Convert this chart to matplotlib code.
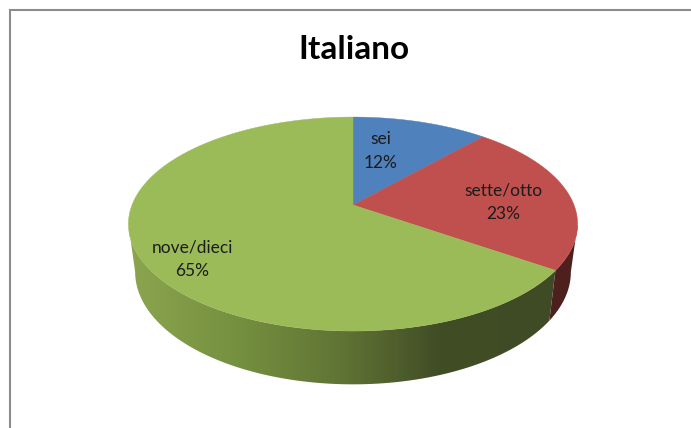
import numpy as np
from matplotlib import pyplot as plt
from matplotlib.colors import LinearSegmentedColormap
from matplotlib.patches import Polygon

title = "Italiano"
categories = ["sei", "sette/otto", "nove/dieci"]
values = [11.6, 23.0, 65.4]
colors = ["#4f81bd", "#c0504d", "#9bbb59"]
label_pos = [(381, 151), (503, 202), (192, 259)]

plt.rcParams['font.family'] = ['Lato', 'DejaVu Sans']

# pie geometry in pixels, tilted with a perspective map
cx, cy = 353, 205
rx, ry, k = 221, 103.6, 0.178
shrink, stretch, depth = 0.97, 1.05, 47


def top_edge(t):
    # t is clockwise from 12 o'clock, in radians
    d = 1 + k * np.cos(t)
    return cx + rx * np.sin(t) / d, cy - ry * np.cos(t) / d


def bottom_edge(t):
    x, y = top_edge(t)
    return cx + (x - cx) * shrink, cy + (y - cy) * stretch + depth


def side_poly(t0, t1):
    t = np.linspace(t0, t1, 200)
    xa, ya = top_edge(t)
    xb, yb = bottom_edge(t)
    return np.column_stack([np.r_[xa, xb[::-1]], np.r_[ya, yb[::-1]]])


fig = plt.figure(figsize=(6.91, 4.28), dpi=100)
ax = fig.add_axes([0, 0, 1, 1])

# find where the rim turns from top to side
t_right = np.pi - np.arccos(k)
t_left = 2 * np.pi - t_right

ends = np.cumsum(values) / sum(values) * 2 * np.pi
starts = np.r_[0, ends[:-1]]

# red side
red_side = Polygon(side_poly(t_right, ends[1]), closed=True, fc="#4d1f1d", ec="none")
ax.add_patch(red_side)

# green side with the shading running left to right
green_cmap = LinearSegmentedColormap.from_list(
    "side", [(0, "#8ba54f"), (0.25, "#75903f"), (0.5, "#5f7335"), (0.72, "#414d25"), (1, "#3f4b24")])
img = ax.imshow(np.linspace(0, 1, 256).reshape(1, -1), cmap=green_cmap, aspect='auto',
                extent=(129, 560, 390, 220), zorder=1)
green_side = Polygon(side_poly(ends[1], t_left), closed=True, fc="none", ec="none",
                     transform=ax.transData)
ax.add_patch(green_side)
img.set_clip_path(green_side)

# top faces
for a, b, c in zip(starts, ends, colors):
    x, y = top_edge(np.linspace(a, b, 200))
    pts = np.column_stack([np.r_[cx, x], np.r_[cy, y]])
    ax.add_patch(Polygon(pts, closed=True, fc=c, ec=c, lw=0.3, zorder=2))

for name, v, (lx, ly) in zip(categories, values, label_pos):
    ax.text(lx, ly, f"{name}\n{v:.0f}%", ha='center', va='center', fontsize=12.5,
            color="#1c1c1c", linespacing=1.55, zorder=3)

ax.text(354, 49, title, ha='center', va='center', fontsize=24, fontweight='bold', color="black")

# frame of the chart, cut by the screenshot on the right and bottom
ax.plot([10.5, 10.5, 691], [428, 9.5, 9.5], color="#8c8c8c", lw=1.5, solid_joinstyle='miter')

ax.set_xlim(0, 691)
ax.set_ylim(428, 0)
ax.axis('off')
fig.savefig("out.png", dpi=100)
